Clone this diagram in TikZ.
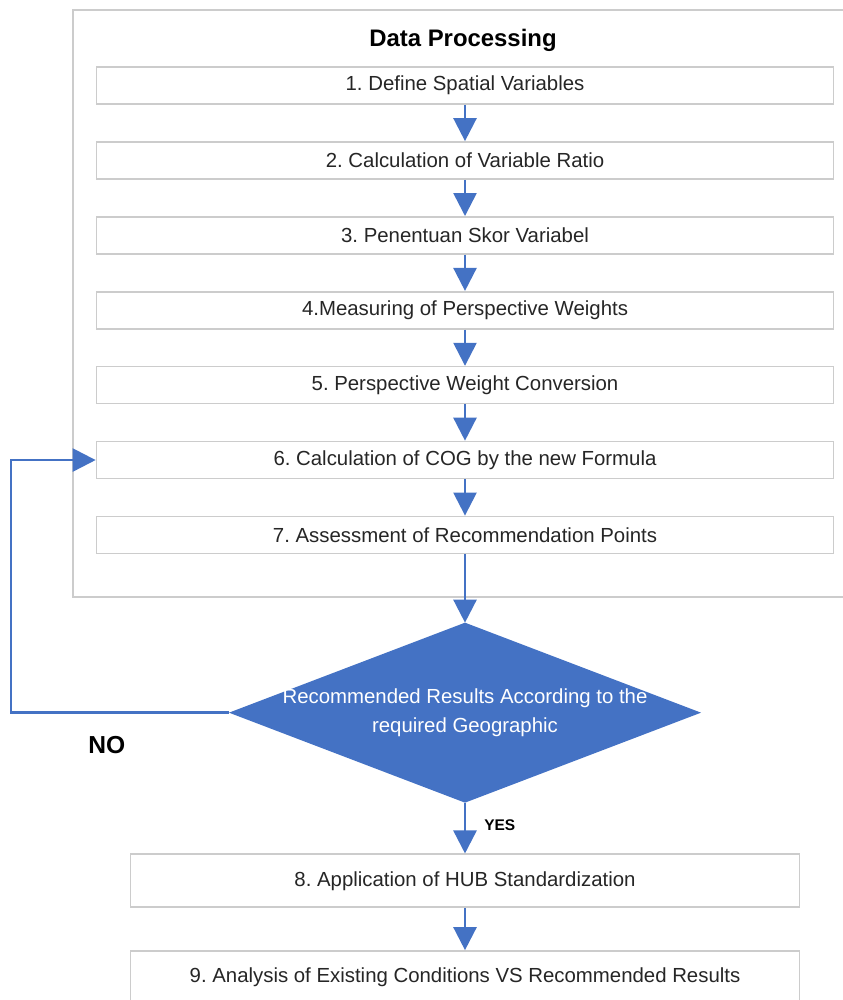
\documentclass[tikz,border=0pt]{standalone}
\usepackage{fontspec}
\setmainfont{Liberation Sans}
\frenchspacing
\usetikzlibrary{arrows.meta,positioning,shapes.geometric}
\definecolor{flowblue}{HTML}{4472C4}
\definecolor{edgegray}{HTML}{CCCCCC}
\definecolor{txtgray}{HTML}{262626}

\begin{document}
\begin{tikzpicture}[
  box/.style={draw=edgegray, line width=1.2pt, fill=white, text=txtgray, minimum width=18.425cm, minimum height=0.925cm, inner sep=0pt, font=\fontsize{14.5}{17}\selectfont},
  wide/.style={box, minimum width=16.725cm, minimum height=1.325cm},
  decision/.style={diamond, fill=flowblue, minimum width=11.8cm, minimum height=4.5cm, inner sep=0pt, outer sep=0pt},
  arr/.style={-{Triangle[width=0.575cm,length=0.575cm]}, flowblue, line width=1.8pt},
  lbl/.style={inner sep=0pt, text=black, font=\bfseries\fontsize{17.5}{20}\selectfont},
  node distance=0.905cm
]
\useasboundingbox (0,0) rectangle (21.075,-25);
\clip (0,0) rectangle (21.075,-25);
% frame round the processing steps
\draw[edgegray, line width=1.2pt] (1.825,-0.25) rectangle (21.3,-14.925);
\node[font=\bfseries\fontsize{17}{20}\selectfont] (title) at (11.575,-1.0) {Data Processing};
\node[box] (s1) at (11.625,-2.14) {1. Define Spatial Variables};
\node[box, below=of s1] (s2) {2. Calculation of Variable Ratio};
\node[box, below=of s2] (s3) {3. Penentuan Skor Variabel};
\node[box, below=of s3] (s4) {4.Measuring of Perspective Weights};
\node[box, below=of s4] (s5) {5. Perspective Weight Conversion};
\node[box, below=of s5] (s6) {6. Calculation of COG by the new Formula};
\node[box, below=of s6] (s7) {7. Assessment of Recommendation Points};
\node[decision, below=1.71cm of s7, label={[text=white, align=center, font=\fontsize{14.5}{20}\selectfont]center:Recommended Results According to the\\required Geographic}] (dec) {};
\node[wide, below=1.27cm of dec] (s8) {8. Application of HUB Standardization};
\node[wide, below=1.05cm of s8] (s9) {9. Analysis of Existing Conditions VS Recommended Results};
\foreach \a/\b in {s1/s2, s2/s3, s3/s4, s4/s5, s5/s6, s6/s7, s7/dec, s8/s9}
  \draw[arr] (\a) -- (\b);
\draw[arr] (dec) -- node[lbl, font=\bfseries\fontsize{11}{13}\selectfont, pos=0.44, right=0.45cm] {YES} (s8);
\draw[arr] (dec.west) -- node[lbl, pos=0.56, below=0.55cm] {NO} ++(-5.45,0) |- (s6.west);
\end{tikzpicture}
\end{document}
